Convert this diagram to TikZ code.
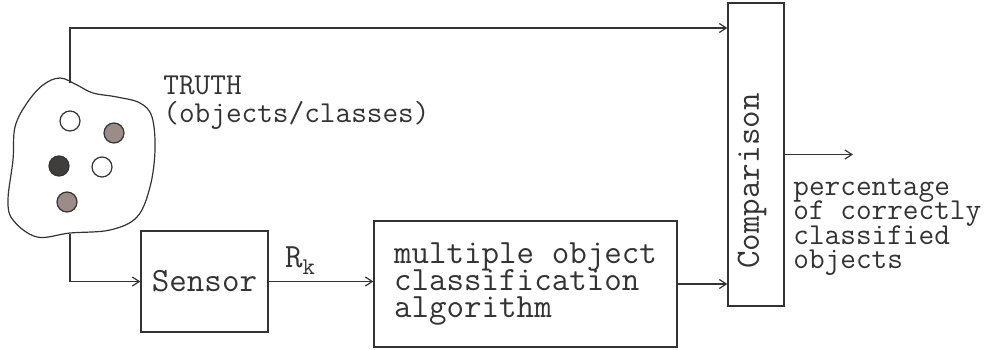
\documentclass[tikz,border=0pt]{standalone}
\usepackage{tikz}
\usetikzlibrary{arrows.meta,positioning,calc}
\definecolor{inkgray}{gray}{0.2}
\definecolor{darkobj}{rgb}{0.25,0.24,0.24}
\definecolor{brownobj}{rgb}{0.61,0.55,0.53}
\tikzset{
  ln/.style={inkgray,line width=0.6pt},
  arr/.style={ln,-{Straight Barb[length=3.5pt,width=4.5pt]}},
  blk/.style={draw=inkgray,line width=0.6pt,inner sep=0pt},
  bigtt/.style={font=\ttfamily\fontsize{17}{13.5}\selectfont,text=inkgray},
  smalltt/.style={font=\ttfamily\fontsize{15.2}{12.2}\selectfont,text=inkgray},
  obj/.style={circle,draw=inkgray,line width=0.6pt,minimum size=10pt,inner sep=0pt},
  objW/.style={obj,fill=white},
  objD/.style={obj,fill=darkobj},
  objM/.style={obj,fill=brownobj},
}
\begin{document}
\setlength{\lineskiplimit}{-20pt}
\begin{tikzpicture}[x=0.5pt,y=-0.5pt]
  \useasboundingbox (0,0) rectangle (993,349);
  % truth cloud
  \draw[ln] plot[smooth cycle,tension=0.6] coordinates {
    (27,103) (43,85) (60,78) (77,85) (93,93) (117,97) (140,103) (152,117)
    (155,150) (150,187) (137,217) (110,230) (70,233) (37,237) (13,220)
    (8,200) (13,160) (15,127)};
  \coordinate (truthN) at (70,83);
  \coordinate (truthS) at (70,234);
  \coordinate (topY) at (0,28);
  \node[objW] (o1) at (70,121) {};
  \node[objM] (o2) at (114,133) {};
  \node[objD] (o3) at (59,166) {};
  \node[objW] (o4) at (102,167) {};
  \node[objM] (o5) at (67,202) {};
  \node[smalltt,anchor=north west,align=left,inner sep=0pt,
    font=\ttfamily\fontsize{15.2}{14}\selectfont] (truthlab) at (163,76)
    {TRUTH\\(objects/classes)};
  % blocks
  \node[blk,bigtt,minimum width=63.5pt,minimum height=50.5pt] (sensor) at (204.5,281.5) {Sensor};
  \node[blk,bigtt,align=left,minimum width=151.5pt,minimum height=63pt] (alg) at (525.5,284)
    {multiple object\\classification\\algorithm};
  \node[blk,minimum width=28pt,minimum height=151.5pt] (cmp) at (756,154.5) {};
  \node[bigtt,rotate=90] (cmplab) at (752,181) {Comparison};
  \coordinate (outend) at (853,154.5);
  \node[smalltt,anchor=north west,align=left,inner sep=0pt] (outlab) at (793,178)
    {percentage\\of correctly\\classified\\objects};
  % connectors
  \draw[arr] (truthN) |- (cmp.west |- topY);
  \draw[arr] (truthS) |- (sensor.west);
  \draw[arr] (sensor.east) -- node[bigtt,pos=0.3,above] (rk) {R\raisebox{-0.45ex}{\fontsize{12}{12}\selectfont k}}
    (sensor.east -| alg.west);
  \draw[arr] (alg.east) -- (alg.east -| cmp.west);
  \draw[arr] (cmp.east) -- (outend);
\end{tikzpicture}
\end{document}
